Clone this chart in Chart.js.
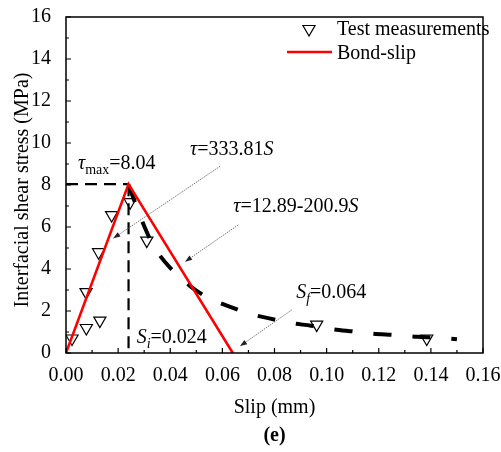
<!DOCTYPE html>
<html>
<head>
<meta charset="utf-8">
<script src="https://cdn.jsdelivr.net/npm/chart.js@4.4.1/dist/chart.umd.min.js"></script>
<style>
  html, body { margin: 0; padding: 0; background: #fff; }
  #wrap { width: 501px; height: 452px; }
</style>
</head>
<body>
<div id="wrap"><canvas id="myChart" width="501" height="452"></canvas></div>
<script>
// test measurements (slip in mm, stress in MPa)
const testSlip   = [0.0023, 0.0078, 0.0130, 0.0077, 0.0125, 0.0175, 0.0246, 0.0310, 0.0962, 0.1384];
const testStress = [0.69, 1.19, 1.54, 2.90, 4.80, 6.57, 7.18, 5.35, 1.35, 0.69];

// fitted softening curve (black dashed)
const fitSlip   = [0.024, 0.027, 0.030, 0.034, 0.040, 0.048, 0.055, 0.063, 0.070, 0.078, 0.086, 0.094, 0.102, 0.110, 0.118, 0.126, 0.135, 0.143, 0.150];
const fitStress = [8.00, 7.00, 6.05, 5.00, 4.05, 3.15, 2.60, 2.20, 1.88, 1.65, 1.43, 1.30, 1.14, 1.03, 0.92, 0.86, 0.77, 0.73, 0.65];

// bilinear bond-slip law
const bondSlip   = [0, 0.024, 0.064];
const bondStress = [0, 8.04, 0];

const tauMax = 8.04;
const sI = 0.024;

const xTickLabels = ['0.00', '0.02', '0.04', '0.06', '0.08', '0.10', '0.12', '0.14', '0.16'];
const yTickLabels = ['0', '2', '4', '6', '8', '10', '12', '14', '16'];

const FONT = "'Liberation Serif', 'Times New Roman', serif";

function pts(xs, ys) {
    return xs.map((x, i) => ({ x: x, y: ys[i] }));
}

// rich text: parts = [{t, it, sub}]
function drawRich(ctx, x, y, parts, size) {
    let cx = x;
    parts.forEach(p => {
        const fs = p.sub ? Math.round(size * 0.7) : size;
        ctx.font = (p.it ? 'italic ' : '') + fs + 'px ' + FONT;
        ctx.fillText(p.t, cx, y + (p.sub ? size * 0.25 : 0));
        cx += ctx.measureText(p.t).width;
    });
}

function arrow(ctx, x1, y1, x2, y2) {
    ctx.save();
    ctx.strokeStyle = '#555';
    ctx.fillStyle = '#222';
    ctx.lineWidth = 0.8;
    ctx.setLineDash([1.5, 1]);
    ctx.beginPath();
    ctx.moveTo(x1, y1);
    ctx.lineTo(x2, y2);
    ctx.stroke();
    ctx.setLineDash([]);
    const a = Math.atan2(y2 - y1, x2 - x1);
    const L = 7, W = 2.6;
    ctx.beginPath();
    ctx.moveTo(x2, y2);
    ctx.lineTo(x2 - L * Math.cos(a) + W * Math.sin(a), y2 - L * Math.sin(a) - W * Math.cos(a));
    ctx.lineTo(x2 - L * Math.cos(a) - W * Math.sin(a), y2 - L * Math.sin(a) + W * Math.cos(a));
    ctx.closePath();
    ctx.fill();
    ctx.restore();
}

const decorPlugin = {
    id: 'decor',
    afterDraw(chart) {
        const ctx = chart.ctx;
        const xs = chart.scales.x, ys = chart.scales.y;
        const a = chart.chartArea;
        const px = v => xs.getPixelForValue(v);
        const py = v => ys.getPixelForValue(v);
        ctx.save();

        // frame
        ctx.strokeStyle = '#000';
        ctx.lineWidth = 1.5;
        ctx.strokeRect(a.left, a.top, a.right - a.left, a.bottom - a.top);

        // inward ticks, major + minor
        ctx.lineWidth = 1.2;
        ctx.beginPath();
        for (let i = 0; i <= 16; i++) {
            const v = i * 0.01;
            const len = i % 2 === 0 ? 5 : 3;
            const x = px(v);
            ctx.moveTo(x, a.bottom);
            ctx.lineTo(x, a.bottom - len);
        }
        for (let i = 0; i <= 16; i++) {
            const len = i % 2 === 0 ? 5 : 3;
            const y = py(i);
            ctx.moveTo(a.left, y);
            ctx.lineTo(a.left + len, y);
        }
        ctx.stroke();

        // axis titles
        ctx.fillStyle = '#000';
        ctx.textAlign = 'center';
        ctx.textBaseline = 'middle';
        ctx.font = '20px ' + FONT;
        ctx.fillText('Slip (mm)', (a.left + a.right) / 2, 408);
        ctx.font = 'bold 20px ' + FONT;
        ctx.fillText('(e)', (a.left + a.right) / 2, 436);
        ctx.save();
        ctx.translate(23, 190);
        ctx.rotate(-Math.PI / 2);
        ctx.font = '20px ' + FONT;
        ctx.fillText('Interfacial shear stress (MPa)', 0, 0);
        ctx.restore();

        // annotations
        ctx.textAlign = 'left';
        ctx.textBaseline = 'alphabetic';
        drawRich(ctx, px(0.0046), py(8.76), [{ t: 'τ', it: true }, { t: 'max', sub: true }, { t: '=8.04' }], 20);
        drawRich(ctx, px(0.0476), py(9.43), [{ t: 'τ', it: true }, { t: '=333.81' }, { t: 'S', it: true }], 20);
        drawRich(ctx, px(0.0642), py(6.73), [{ t: 'τ', it: true }, { t: '=12.89-200.9' }, { t: 'S', it: true }], 20);
        drawRich(ctx, px(0.0883), py(2.60), [{ t: 'S', it: true }, { t: 'f', it: true, sub: true }, { t: '=0.064' }], 20);
        drawRich(ctx, px(0.0271), py(0.46), [{ t: 'S', it: true }, { t: 'i', it: true, sub: true }, { t: '=0.024' }], 20);

        arrow(ctx, px(0.0591), py(8.89), px(0.01815), py(5.46));
        arrow(ctx, px(0.0661), py(6.10), px(0.0457), py(4.35));
        arrow(ctx, px(0.0866), py(2.05), px(0.0668), py(0.33));

        // legend
        ctx.font = '20px ' + FONT;
        ctx.lineWidth = 1.2;
        ctx.strokeStyle = '#000';
        ctx.fillStyle = '#fff';
        Chart.helpers.drawPoint(ctx, { pointStyle: 'triangle', radius: 7, rotation: 180, borderWidth: 1.2 }, 309, 29);
        ctx.fillStyle = '#000';
        ctx.fillText('Test measurements', 337, 35);
        ctx.strokeStyle = '#ff0000';
        ctx.lineWidth = 2.5;
        ctx.beginPath();
        ctx.moveTo(287, 52);
        ctx.lineTo(332, 52);
        ctx.stroke();
        ctx.fillText('Bond-slip', 337, 58.5);

        ctx.restore();
    }
};

const ctx = document.getElementById('myChart');

let chartJsData = {
    datasets: [{
        label: 'Bond-slip',
        data: pts(bondSlip, bondStress),
        showLine: true,
        borderColor: '#ff0000',
        borderWidth: 2.6,
        pointRadius: 0,
        tension: 0
    }, {
        label: 'Fit',
        data: pts(fitSlip, fitStress),
        showLine: true,
        borderColor: '#000',
        borderWidth: 4,
        borderDash: [18, 21],
        pointRadius: 0,
        tension: 0.3
    }, {
        label: 'Test measurements',
        data: pts(testSlip, testStress),
        showLine: false,
        pointStyle: 'triangle',
        rotation: 180,
        radius: 7,
        pointRadius: 7,
        borderColor: '#000',
        borderWidth: 1.2,
        backgroundColor: 'rgba(255,255,255,0)'
    }, {
        label: 'tau max guide',
        data: pts([0, sI], [tauMax, tauMax]),
        showLine: true,
        borderColor: '#000',
        borderWidth: 2.2,
        borderDash: [12, 7],
        pointRadius: 0
    }, {
        label: 'S_i guide',
        data: pts([sI, sI], [tauMax, 0]),
        showLine: true,
        borderColor: '#000',
        borderWidth: 2.2,
        borderDash: [12, 7],
        pointRadius: 0
    }]
};

let chartJsOptions = {
    responsive: false,
    animation: false,
    layout: { padding: { left: 0, top: 17, right: 18, bottom: 0 } },
    scales: {
        x: {
            type: 'linear',
            min: 0,
            max: 0.16,
            grid: { display: false },
            border: { display: false },
            afterFit: scale => {
                scale.height = 99;
                scale.paddingLeft = 0;
                scale.paddingRight = 0;
            },
            ticks: {
                stepSize: 0.02,
                padding: 3,
                color: '#000',
                font: { family: FONT, size: 20 },
                maxRotation: 0,
                callback: (value, index) => xTickLabels[index]
            }
        },
        y: {
            type: 'linear',
            min: 0,
            max: 16,
            grid: { display: false },
            border: { display: false },
            afterFit: scale => {
                scale.width = 66;
                scale.paddingTop = 0;
                scale.paddingBottom = 0;
            },
            ticks: {
                stepSize: 2,
                padding: 7,
                color: '#000',
                font: { family: FONT, size: 20 },
                callback: (value, index) => yTickLabels[index]
            }
        }
    },
    plugins: {
        legend: { display: false },
        tooltip: { enabled: false }
    }
};

new Chart(ctx, {
    type: 'scatter',
    data: chartJsData,
    options: chartJsOptions,
    plugins: [decorPlugin]
});
</script>
</body>
</html>
